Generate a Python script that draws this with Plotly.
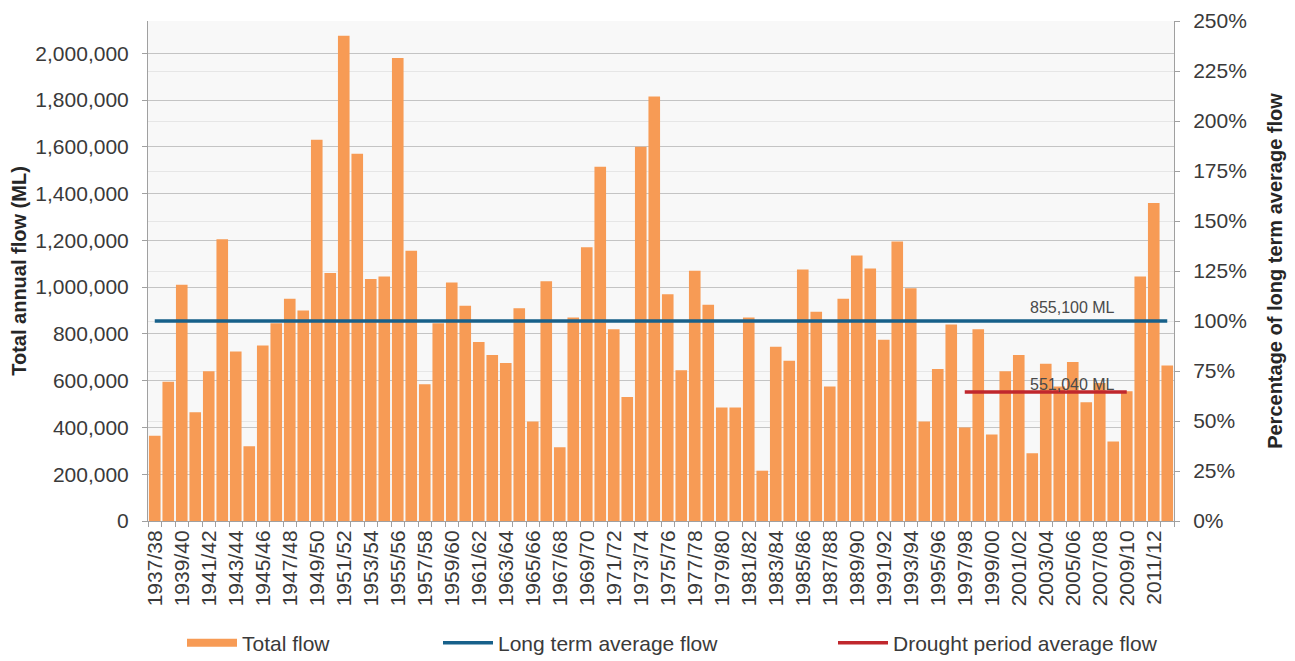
import plotly.graph_objects as go

# ---- data ----
years = [f"{y}/{str(y + 1)[-2:]}" for y in range(1937, 2013)]
flow = [
    365000, 595000, 1010000, 465000, 640000, 1205000, 725000, 320000, 750000, 845000,
    950000, 900000, 1630000, 1060000, 2075000, 1570000, 1035000, 1045000, 1980000, 1155000,
    585000, 845000, 1020000, 920000, 765000, 710000, 675000, 910000, 425000, 1025000,
    315000, 870000, 1170000, 1515000, 820000, 530000, 1600000, 1815000, 970000, 645000,
    1070000, 925000, 485000, 485000, 870000, 215000, 745000, 685000, 1075000, 895000,
    575000, 950000, 1135000, 1080000, 775000, 1195000, 995000, 425000, 650000, 840000,
    400000, 820000, 370000, 640000, 710000, 290000, 672000, 575000, 680000, 508000,
    590000, 340000, 555000, 1045000, 1360000, 665000,
]
long_term_avg = 855100
drought_avg = 551040
drought_start = "1997/98"
drought_end = "2009/10"
tick_labels = [y if i % 2 == 0 else "" for i, y in enumerate(years)]

ORANGE = "#F79B55"
BLUE = "#17608A"
RED = "#C0272D"
TXT = "#3A3A3A"
FONT = "Liberation Sans, Arial, sans-serif"

W, H = 1287, 653  # page body has a small default margin

fig = go.Figure()

fig.add_trace(go.Bar(
    x=years, y=flow, marker=dict(color=ORANGE, line=dict(width=0)),
    name="Total flow", showlegend=False, hoverinfo="x+y",
))

fig.add_trace(go.Scatter(
    x=[years[0], years[-1]], y=[long_term_avg, long_term_avg], mode="lines",
    line=dict(color=BLUE, width=3.5), name="Long term average flow", legend="legend2",
))

di0 = years.index(drought_start)
di1 = years.index(drought_end)
fig.add_trace(go.Scatter(
    x=[years[di0], years[di1]], y=[drought_avg, drought_avg], mode="lines",
    line=dict(color=RED, width=3.5), name="Drought period average flow", legend="legend3",
))

# legend-only swatch for the bars (wide orange band like the original)
fig.add_trace(go.Scatter(
    x=[None], y=[None], mode="lines", line=dict(color=ORANGE, width=8),
    name="Total flow", legend="legend",
))

# invisible trace to activate the secondary axis
fig.add_trace(go.Scatter(
    x=[years[0]], y=[0], yaxis="y2", mode="markers", marker=dict(opacity=0),
    showlegend=False, hoverinfo="skip",
))

fig.add_annotation(
    x=years[68], y=long_term_avg, xref="x", yref="y", text="855,100 ML",
    showarrow=False, yanchor="bottom", yshift=3,
    font=dict(family=FONT, size=16, color="#4A4A4A"),
)
fig.add_annotation(
    x=years[68], y=drought_avg, xref="x", yref="y", text="551,040 ML",
    showarrow=False, yanchor="bottom", yshift=-3,
    font=dict(family=FONT, size=16, color="#4A4A4A"),
)

ymax = long_term_avg * 2.5

legend_common = dict(
    orientation="h", xref="container", yref="container",
    yanchor="middle", y=1 - 635 / H, xanchor="left",
    font=dict(family=FONT, size=21, color=TXT), bgcolor="rgba(0,0,0,0)",
    itemwidth=50,
)

fig.update_layout(
    width=W, height=H,
    margin=dict(l=140, r=121, t=13, b=140, autoexpand=False),
    paper_bgcolor="white", plot_bgcolor="#F8F8F8",
    bargap=0.14,
    font=dict(family=FONT, size=21, color=TXT),
    xaxis=dict(
        type="category", tickmode="array", tickvals=years, ticktext=tick_labels,
        tickangle=-90, ticks="outside", tickson="boundaries", ticklen=5,
        tickcolor="#A0A0A0", showline=True, linecolor="#A0A0A0", linewidth=1,
        showgrid=False, tickfont=dict(family=FONT, size=21, color=TXT),
        range=[-0.5, len(years) - 0.5], automargin=False,
    ),
    yaxis=dict(
        range=[0, ymax], tickmode="array",
        tickvals=list(range(0, 2000001, 200000)), tickformat=",d",
        showgrid=True, gridcolor="#C4C4C4", gridwidth=1,
        showline=True, linecolor="#A0A0A0", ticks="outside", ticklen=5,
        tickcolor="#A0A0A0", zeroline=False, automargin=False,
        ticklabelstandoff=9, ticklabeloverflow="allow",
        tickfont=dict(family=FONT, size=21, color=TXT),
        title=dict(text="<b>Total annual flow (ML)</b>", standoff=3,
                   font=dict(family=FONT, size=20, color="#262626")),
    ),
    yaxis2=dict(
        overlaying="y", side="right", range=[0, 250], dtick=25, ticksuffix="%",
        showgrid=True, gridcolor="#E6E6E6", gridwidth=1,
        showline=True, linecolor="#A0A0A0", ticks="outside", ticklen=5,
        tickcolor="#A0A0A0", zeroline=False, automargin=False,
        ticklabelstandoff=9, ticklabeloverflow="allow",
        tickfont=dict(family=FONT, size=21, color=TXT),
        title=dict(text="<b>Percentage of long term average flow</b>", standoff=22,
                   font=dict(family=FONT, size=20, color="#262626")),
    ),
    legend=dict(legend_common, x=174 / W),
    legend2=dict(legend_common, x=430 / W),
    legend3=dict(legend_common, x=825 / W),
)

fig.write_html("out.html")
